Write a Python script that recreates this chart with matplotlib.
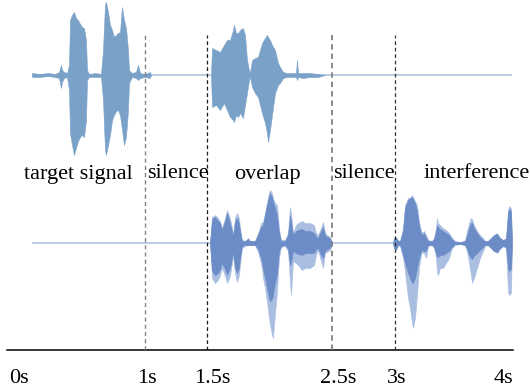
import matplotlib
matplotlib.use('Agg')
import matplotlib.pyplot as plt
from matplotlib.transforms import ScaledTranslation
import numpy as np

# ---------------- data (time in ms, amplitude in arbitrary units) ----------------
# target signal (top track, 0-1 s)
target_t = [96, 160, 224, 280, 312, 328, 336, 352, 376, 392, 400, 416, 432, 448, 464, 480,
            496, 512, 528, 536, 552, 600, 648, 664, 680, 688, 704, 720, 736, 752, 768, 784,
            800, 816, 832, 848, 864, 872, 896, 928, 944, 960, 1000, 1040, 1048]
target_up = [2, 1, 2, 1, 3, 10, 5, 3, 2, 10, 55, 60, 63, 57, 55, 51,
             48, 47, 35, 5, 1, 2, 1, 25, 71, 73, 63, 50, 45, 38, 40, 42,
             43, 68, 55, 47, 25, 5, 2, 3, 10, 2, 1, 3, 0]
target_lo = [-2, -2, -1, -2, -3, -13, -7, -3, -2, -15, -58, -70, -80, -73, -66, -62,
             -60, -62, -45, -5, -2, -2, -2, -25, -75, -80, -70, -60, -45, -40, -36, -35,
             -40, -55, -70, -62, -35, -8, -2, -3, -5, -3, -2, -3, 0]

# target signal inside the overlap (top track, 1.5-2.5 s)
ovl_top_t = [1528, 1536, 1568, 1600, 1632, 1656, 1680, 1704, 1712, 1728, 1744, 1760, 1784,
             1800, 1816, 1832, 1840, 1856, 1880, 1904, 1936, 1960, 1976, 1984, 2000, 2016,
             2040, 2064, 2080, 2104, 2136, 2176, 2208, 2216, 2224, 2264, 2320, 2384, 2440]
ovl_top_up = [0, 27, 25, 23, 30, 35, 35, 45, 50, 42, 42, 45, 47,
              40, 15, 5, 2, 15, 17, 18, 32, 37, 40, 38, 35, 30,
              25, 12, 8, 3, 2, 2, 2, 15, 2, 2, 2, 1, 0]
ovl_top_lo = [0, -32, -30, -35, -28, -35, -42, -45, -47, -40, -42, -38, -43,
              -30, -18, -5, -2, -12, -18, -22, -38, -48, -58, -67, -55, -40,
              -18, -10, -8, -3, -2, -2, -2, -5, -2, -3, -2, -2, 0]

# interference inside the overlap (bottom track, 1.5-2.5 s): outer (light) and inner (dark)
ovl_bot_t = [1520, 1536, 1560, 1584, 1600, 1616, 1640, 1656, 1680, 1696, 1704, 1720, 1736,
             1752, 1760, 1776, 1800, 1824, 1840, 1880, 1904, 1928, 1944, 1960, 1976, 1992,
             2000, 2016, 2024, 2040, 2056, 2072, 2088, 2120, 2144, 2160, 2168, 2184, 2208,
             2224, 2256, 2280, 2320, 2352, 2368, 2384, 2408, 2424, 2440, 2456, 2480, 2496]
ovl_bot_up_outer = [0, 26, 28, 25, 22, 15, 25, 33, 25, 15, 8, 25, 30,
                    25, 15, 3, 2, 5, 2, 2, 10, 20, 21, 30, 41, 50,
                    53, 50, 45, 40, 38, 15, 3, 3, 10, 36, 30, 10, 18,
                    20, 22, 20, 20, 18, 10, 8, 15, 21, 10, 8, 6, 0]
ovl_bot_lo_outer = [0, -35, -40, -37, -32, -25, -33, -40, -33, -20, -12, -30, -39,
                    -32, -22, -5, -3, -2, -2, -2, -9, -20, -35, -45, -59, -75,
                    -82, -92, -95, -70, -49, -15, -4, -3, -8, -40, -52, -18, -20,
                    -22, -27, -25, -25, -22, -12, -7, -18, -25, -10, -9, -7, 0]
ovl_bot_up_inner = [0, 24, 26, 22, 20, 13, 22, 30, 20, 12, 6, 22, 25,
                    20, 12, 2, 2, 4, 2, 2, 8, 16, 18, 28, 38, 47,
                    50, 46, 42, 35, 28, 10, 2, 2, 8, 28, 22, 8, 12,
                    13, 14, 12, 12, 10, 6, 5, 12, 16, 8, 6, 5, 0]
ovl_bot_lo_inner = [0, -28, -32, -30, -26, -20, -26, -32, -25, -15, -8, -25, -30,
                    -25, -15, -3, -2, -2, -2, -2, -6, -15, -25, -35, -45, -55,
                    -58, -56, -52, -40, -30, -8, -3, -2, -6, -22, -20, -8, -10,
                    -11, -12, -10, -10, -10, -6, -5, -12, -15, -8, -6, -5, 0]

# interference alone (bottom track, 3-4 s)
interf_t = [2984, 2992, 3008, 3024, 3040, 3064, 3080, 3104, 3120, 3136, 3144, 3160, 3176,
            3192, 3208, 3216, 3232, 3248, 3264, 3296, 3312, 3328, 3336, 3344, 3360, 3384,
            3408, 3432, 3456, 3480, 3520, 3560, 3576, 3592, 3608, 3616, 3632, 3656, 3680,
            3704, 3720, 3744, 3768, 3792, 3816, 3840, 3864, 3888, 3904, 3912, 3928, 3936]
interf_up_outer = [0, 5, 6, 3, 2, 15, 38, 45, 45, 48, 46, 42, 38,
                   22, 12, 10, 12, 8, 3, 2, 5, 15, 25, 20, 18, 15,
                   13, 10, 5, 2, 1, 2, 12, 20, 25, 24, 18, 12, 8,
                   5, 2, 2, 5, 8, 10, 5, 3, 5, 33, 37, 35, 0]
interf_lo_outer = [0, -5, -7, -3, -2, -15, -29, -55, -65, -80, -85, -75, -52,
                   -25, -12, -9, -10, -15, -3, -2, -5, -15, -30, -32, -25, -25,
                   -20, -15, -5, -2, -1, -2, -8, -20, -32, -40, -35, -25, -15,
                   -8, -3, -2, -5, -8, -10, -6, -3, -5, -49, -52, -50, 0]
interf_up_inner = [0, 5, 5, 2, 2, 12, 35, 43, 45, 46, 44, 40, 32,
                   18, 10, 8, 10, 6, 2, 2, 4, 12, 18, 16, 14, 12,
                   10, 8, 4, 1, 1, 2, 8, 15, 20, 20, 15, 10, 6,
                   3, 2, 2, 5, 8, 9, 5, 3, 4, 30, 34, 32, 0]
interf_lo_inner = [0, -5, -6, -2, -2, -12, -20, -30, -35, -40, -40, -35, -25,
                   -15, -9, -7, -8, -8, -2, -2, -4, -10, -14, -14, -12, -12,
                   -10, -8, -4, -1, -1, -2, -6, -12, -15, -16, -13, -10, -7,
                   -4, -2, -2, -5, -8, -9, -5, -3, -4, -25, -28, -26, 0]

boundaries = [1.0, 1.5, 2.5, 3.0]
segment_names = ['target signal', 'silence', 'overlap', 'silence', 'interference']
tick_values = [0, 1, 1.5, 2.5, 3, 4]
tick_labels = ['0s', '1s', '1.5s', '2.5s', '3s', '4s']

# ---------------- styling / layout ----------------
FONT = ['Liberation Serif', 'DejaVu Serif']
TOP_COLOR = '#7aa2c9'
TOP_BASE = '#b6c9de'
BOT_DARK = '#6b8cc6'
BOT_LIGHT = '#aabee2'
BOT_BASE = '#b5c6e6'
TOP_Y, BOT_Y = 0, -168

def sec(ms):
    return np.asarray(ms, dtype=float) / 1000.0

fig = plt.figure(figsize=(5.3, 3.92), dpi=100)
ax = fig.add_axes([0, 1 - 350 / 392, 1, 350 / 392])
ax.set_xlim(-0.16, 4.08)
ax.set_ylim(-275, 75)

track_start = sec(target_t)[0]
track_end = sec(interf_t)[-1]

# baselines
ax.hlines(TOP_Y, track_start, track_end, color=TOP_BASE, lw=1.3, zorder=1)
ax.hlines(BOT_Y, track_start, track_end, color=BOT_BASE, lw=1.3, zorder=1)

# top track waveforms
for t, up, lo in [(target_t, target_up, target_lo), (ovl_top_t, ovl_top_up, ovl_top_lo)]:
    ax.fill_between(sec(t), TOP_Y + np.asarray(up), TOP_Y + np.asarray(lo),
                    color=TOP_COLOR, lw=0.4, edgecolor=TOP_COLOR, zorder=2)

# bottom track waveforms
for t, uo, lo_, ui, li in [(ovl_bot_t, ovl_bot_up_outer, ovl_bot_lo_outer, ovl_bot_up_inner, ovl_bot_lo_inner),
                           (interf_t, interf_up_outer, interf_lo_outer, interf_up_inner, interf_lo_inner)]:
    ax.fill_between(sec(t), BOT_Y + np.asarray(uo), BOT_Y + np.asarray(lo_),
                    color=BOT_LIGHT, lw=0.4, edgecolor=BOT_LIGHT, zorder=2)
    ax.fill_between(sec(t), BOT_Y + np.asarray(ui), BOT_Y + np.asarray(li),
                    color=BOT_DARK, lw=0.4, edgecolor=BOT_DARK, zorder=3)

# dashed boundaries
line_colors = ['#808080', '#1a1a1a', '#808080', '#333333']
line_widths = [1.0, 0.9, 1.3, 0.9]
for b, c, w in zip(boundaries, line_colors, line_widths):
    ax.vlines(b, -275, 40, colors=c, linewidth=w, linestyles=(0, (3, 2.2)), zorder=5)

# segment labels
label_x = [0.47, 1.26, 1.98, 2.75, 3.65]
for x, name in zip(label_x, segment_names):
    ax.text(x, -103.5, name, ha='center', va='baseline', fontsize=16, family=FONT,
            color='black', zorder=6)

# axis
for s in ['left', 'right', 'top']:
    ax.spines[s].set_visible(False)
ax.spines['bottom'].set_bounds(-0.104, 3.944)
ax.spines['bottom'].set_linewidth(1.1)
ax.set_yticks([])
ax.set_xticks(tick_values)
ax.set_xticklabels(tick_labels, fontsize=16, family=FONT)
ax.tick_params(axis='x', length=0, pad=13.5)
offsets_px = [-1, 2, 5, 6, 2, -17]
for lab, dx in zip(ax.get_xticklabels(), offsets_px):
    lab.set_transform(lab.get_transform() + ScaledTranslation(dx / 100, 0, fig.dpi_scale_trans))

fig.savefig('out.png', dpi=100)
